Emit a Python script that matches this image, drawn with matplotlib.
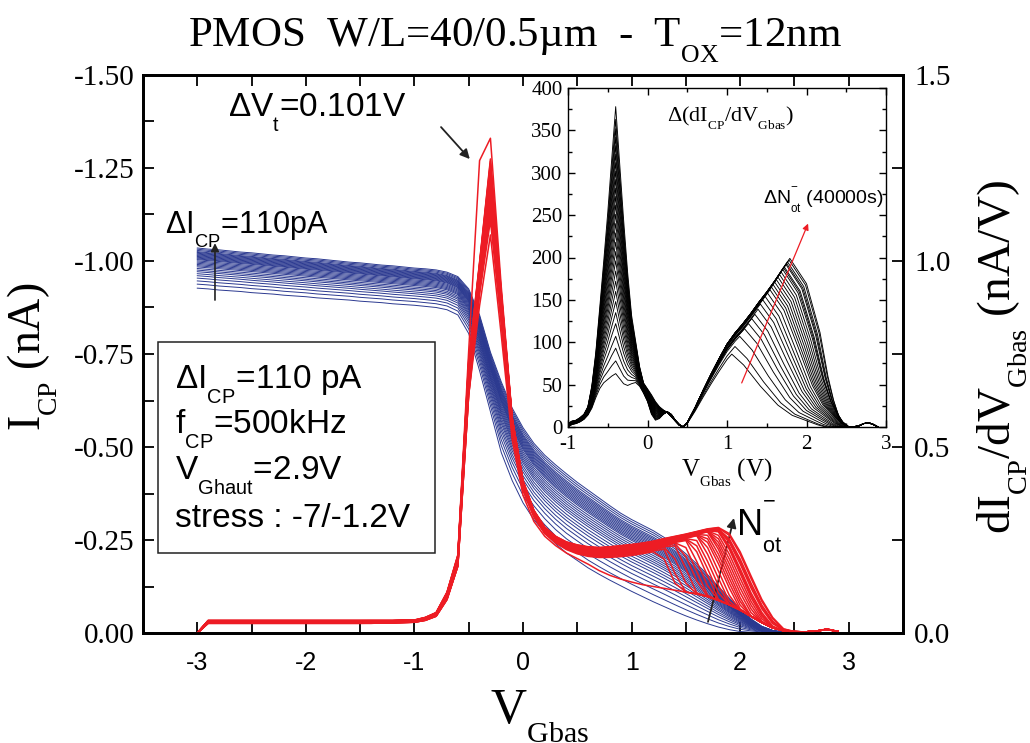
import numpy as np
import matplotlib
matplotlib.use("Agg")
import matplotlib.pyplot as plt
from matplotlib import font_manager
from matplotlib.ticker import MultipleLocator, FormatStrFormatter
from matplotlib.patches import Rectangle

# ---------------- data ----------------
# gate voltage grid of the main plot (V)
vg = [-3.0, -2.9, -2.8, -2.7, -2.6, -2.5, -2.4, -2.3, -2.2, -2.1,
      -2.0, -1.9, -1.8, -1.7, -1.6, -1.5, -1.4, -1.3, -1.2, -1.1,
      -1.0, -0.9, -0.8, -0.7, -0.6, -0.5, -0.4, -0.3, -0.2, -0.1,
      0.0, 0.1, 0.2, 0.3, 0.4, 0.5, 0.6, 0.7, 0.8, 0.9,
      1.0, 1.1, 1.2, 1.3, 1.4, 1.5, 1.6, 1.7, 1.8, 1.9,
      2.0, 2.1, 2.2, 2.3, 2.4, 2.5, 2.6, 2.7, 2.8, 2.9]

# I_CP (nA), fresh device and after the longest stress
icp_fresh = [-0.927, -0.925, -0.922, -0.920, -0.918, -0.915, -0.913, -0.911, -0.908, -0.906,
             -0.904, -0.901, -0.899, -0.897, -0.895, -0.892, -0.890, -0.888, -0.885, -0.883,
             -0.881, -0.878, -0.875, -0.869, -0.855, -0.805, -0.705, -0.595, -0.485, -0.410,
             -0.350, -0.305, -0.270, -0.240, -0.215, -0.195, -0.175, -0.158, -0.142, -0.127,
             -0.112, -0.098, -0.084, -0.071, -0.058, -0.046, -0.035, -0.025, -0.016, -0.009,
             -0.004, -0.002, -0.001, 0.0, 0.0, 0.0, 0.0, 0.0, 0.0, 0.0]
icp_stress = [-1.035, -1.032, -1.030, -1.027, -1.024, -1.022, -1.019, -1.016, -1.014, -1.011,
              -1.008, -1.006, -1.003, -1.000, -0.997, -0.995, -0.992, -0.989, -0.987, -0.984,
              -0.981, -0.979, -0.976, -0.970, -0.958, -0.925, -0.855, -0.755, -0.675, -0.605,
              -0.552, -0.510, -0.478, -0.452, -0.428, -0.405, -0.384, -0.363, -0.342, -0.322,
              -0.305, -0.290, -0.275, -0.257, -0.237, -0.213, -0.186, -0.157, -0.125, -0.094,
              -0.064, -0.038, -0.018, -0.007, -0.002, 0.0, 0.0, 0.0, 0.0, 0.0]

# dI_CP/dV_Gbas (nA/V): fresh curve, lower and upper edge of the stressed bundle
didv_fresh = [0.000, 0.026, 0.026, 0.026, 0.026, 0.026, 0.026, 0.026, 0.026, 0.026,
              0.026, 0.026, 0.026, 0.026, 0.026, 0.026, 0.026, 0.027, 0.027, 0.028,
              0.029, 0.034, 0.045, 0.090, 0.180, 0.640, 0.880, 1.070, 0.800, 0.520,
              0.370, 0.300, 0.260, 0.235, 0.215, 0.200, 0.185, 0.168, 0.155, 0.145,
              0.137, 0.130, 0.125, 0.120, 0.115, 0.110, 0.105, 0.098, 0.088, 0.076,
              0.062, 0.045, 0.028, 0.014, 0.006, 0.003, 0.003, 0.005, 0.010, 0.004]
didv_low = [0.000, 0.024, 0.024, 0.024, 0.024, 0.024, 0.024, 0.024, 0.024, 0.024,
            0.024, 0.024, 0.024, 0.024, 0.024, 0.024, 0.025, 0.025, 0.025, 0.026,
            0.027, 0.032, 0.043, 0.085, 0.170, 0.620, 0.900, 1.090, 0.820, 0.540,
            0.380, 0.310, 0.265, 0.240, 0.222, 0.210, 0.203, 0.200, 0.200, 0.202,
            0.205, 0.210, 0.215, 0.222, 0.230, 0.238, 0.245, 0.250, 0.255, 0.230,
            0.170, 0.100, 0.045, 0.015, 0.005, 0.003, 0.003, 0.005, 0.010, 0.004]
didv_high = [0.000, 0.034, 0.034, 0.034, 0.034, 0.034, 0.034, 0.034, 0.034, 0.034,
             0.034, 0.034, 0.034, 0.034, 0.034, 0.034, 0.034, 0.034, 0.034, 0.035,
             0.035, 0.042, 0.055, 0.110, 0.210, 0.740, 1.000, 1.280, 0.920, 0.580,
             0.410, 0.330, 0.285, 0.260, 0.245, 0.237, 0.232, 0.230, 0.232, 0.235,
             0.238, 0.242, 0.247, 0.254, 0.260, 0.266, 0.273, 0.280, 0.285, 0.272,
             0.225, 0.160, 0.095, 0.045, 0.012, 0.004, 0.003, 0.005, 0.012, 0.004]
# peak of the last (Delta Vt shifted) derivative curve
dvt_x = [-0.5, -0.4, -0.3, -0.2]
dvt_y = [0.76, 1.27, 1.33, 0.93]

# relative stress level of each of the 29 measurements (fresh ... 40000 s)
stress_w = [0.0, 0.10, 0.18, 0.25, 0.31, 0.36, 0.41, 0.45, 0.49, 0.53,
            0.56, 0.59, 0.62, 0.65, 0.68, 0.71, 0.73, 0.75, 0.77, 0.79,
            0.81, 0.83, 0.85, 0.87, 0.89, 0.91, 0.94, 0.97, 1.00]

# inset: Delta(dI_CP/dV_Gbas) -- position/height of the N_ot peak of each curve
peak_x = [1.06, 1.10, 1.16, 1.22, 1.27, 1.31, 1.35, 1.39, 1.42, 1.45,
          1.48, 1.51, 1.54, 1.56, 1.58, 1.60, 1.62, 1.64, 1.66, 1.68,
          1.70, 1.71, 1.72, 1.74, 1.75, 1.76, 1.78, 1.79]
peak_y = [86, 95, 107, 116, 122, 128, 133, 139, 145, 150,
          154, 158, 162, 165, 168, 171, 174, 177, 180, 183,
          186, 188, 189, 192, 193, 195, 197, 199]
# height of the interface-trap peak (V = -0.4 V) of each curve
ins_h1 = [63, 78, 93, 107, 122, 135, 148, 160, 172, 184,
          196, 207, 218, 229, 240, 251, 262, 272, 282, 292,
          302, 312, 322, 332, 342, 352, 363, 378]
# left part of the inset curves
ins_x1 = [-1.0, -0.95, -0.9, -0.85, -0.8, -0.75, -0.7, -0.65, -0.6, -0.55,
          -0.5, -0.45, -0.4, -0.35, -0.3, -0.25, -0.2, -0.15, -0.1, -0.05,
          0.0, 0.05, 0.1, 0.15, 0.2, 0.25, 0.3, 0.35, 0.4]
ins_base_lo = [0, 3, 4, 6, 9, 14, 22, 34, 44, 50, 53, 56, 58, 53, 48, 47, 50, 52, 48, 40,
               30, 15, 8, 10, 15, 18, 15, 8, 3]
ins_base_hi = [4, 7, 8, 11, 15, 24, 36, 44, 50, 54, 57, 60, 62, 58, 54, 56, 62, 70, 62, 52,
               45, 38, 30, 24, 20, 17, 12, 7, 2]
ins_shape = [0, 0, 0, 0, 0, 0, 0.04, 0.14, 0.29, 0.45, 0.62, 0.81, 1.0, 0.8, 0.6, 0.4,
             0.22, 0.1, 0.03, 0, 0, 0, 0, 0, 0, 0, 0, 0, 0]
# common rising edge of the N_ot peak (upper curve)
ins_rise_x = [0.45, 0.5, 0.6, 0.7, 0.8, 0.9, 1.0, 1.1, 1.2, 1.3, 1.4, 1.5, 1.6, 1.7, 1.8]
ins_rise_y = [0, 5, 23, 43, 62, 80, 97, 110, 121, 133, 146, 158, 171, 185, 199]
# falling edge (fraction of the peak vs distance from the peak) of first and last curve
ins_fall_frac = [1.0, 0.85, 0.56, 0.30, 0.16, 0.07, 0.03, 0.0]
ins_fall_dx_lo = [0.0, 0.15, 0.36, 0.58, 0.76, 0.98, 1.08, 1.18]
ins_fall_dx_hi = [0.0, 0.21, 0.38, 0.48, 0.55, 0.61, 0.65, 0.72]
ins_tail_x = [2.55, 2.65, 2.72, 2.78, 2.84, 2.9]
ins_tail_y = [0, 1, 4, 5, 3, 0]

# ---------------- styling ----------------
names = {f.name for f in font_manager.fontManager.ttflist}
SERIF = "Liberation Serif"
SANS = "Liberation Sans"
NARROW = "Liberation Sans Narrow" if "Liberation Sans Narrow" in names else SANS

plt.rcParams["font.family"] = SERIF
plt.rcParams["axes.unicode_minus"] = False
plt.rcParams["mathtext.default"] = "regular"

# smaller and lower sub/superscripts, as in the original (Origin) figure
try:
    import matplotlib._mathtext as _mt
    _mt.SHRINK_FACTOR = 0.6
    _mt.FontConstantsBase.sub1 = 0.85
    _mt.FontConstantsBase.sub2 = 0.85
    _mt.FontConstantsBase.sup1 = 1.35
except Exception:
    pass

BLUE = "#2B3990"
RED = "#ED1C24"

W, H = 1030, 743
fig = plt.figure(figsize=(W / 100, H / 100), dpi=100)
L, R, T, B = 143, 903, 75, 633
ax = fig.add_axes([L / W, 1 - B / H, (R - L) / W, (B - T) / H])
ax2 = ax.twinx()

x = np.array(vg)
bf, bs = np.array(icp_fresh), np.array(icp_stress)
rf, rl, rh = np.array(didv_fresh), np.array(didv_low), np.array(didv_high)

# blue: charge-pumping current curves
for w in stress_w:
    ax.plot(x, bf + w * (bs - bf), color=BLUE, lw=0.7)

# red: derivative curves
edge = np.where(x >= 1.8, rh, 10.0)
ax2.plot(x, rf, color=RED, lw=1.1)
n = len(peak_x)
for k in range(n):
    w = stress_w[k + 1]
    base = rl + w * (rh - rl)
    e = np.interp(x + (1.8 - peak_x[k]), x, edge)
    y = np.maximum(rf, np.minimum(base, e))
    if k == n - 1:
        for xv, yv in zip(dvt_x, dvt_y):
            y[np.argmin(np.abs(x - xv))] = yv
    ax2.plot(x, y, color=RED, lw=1.1)

ax.set_xlim(-3.5, 3.5)
ax.set_ylim(0, -1.5)
ax2.set_ylim(0, 1.5)
ax.xaxis.set_major_locator(MultipleLocator(1))
ax.xaxis.set_minor_locator(MultipleLocator(0.5))
ax.xaxis.set_major_formatter(FormatStrFormatter("%d"))
ax.yaxis.set_major_locator(MultipleLocator(0.25))
ax.yaxis.set_minor_locator(MultipleLocator(0.125))
ax.yaxis.set_major_formatter(FormatStrFormatter("%.2f"))
ax2.yaxis.set_major_locator(MultipleLocator(0.5))
ax2.yaxis.set_minor_locator(MultipleLocator(0.25))
ax2.yaxis.set_major_formatter(FormatStrFormatter("%.1f"))

ax.tick_params(axis="x", which="both", direction="in", top=True, bottom=True,
               length=8, width=1.3, labelsize=18, pad=13, labelfontfamily=NARROW)
ax.tick_params(axis="y", which="both", direction="in", left=True, right=False,
               length=8, width=1.3, labelsize=21, pad=6, labelfontfamily=SERIF)
ax2.tick_params(axis="y", which="both", direction="in", right=True, left=False,
                length=8, width=1.3, labelsize=21, pad=8, labelfontfamily=SERIF)
for a in (ax, ax2):
    for s in a.spines.values():
        s.set_linewidth(2.0)

# titles / axis labels
fig.text(0.5, 1 - 47 / H, "PMOS  W/L=40/0.5µm  -  T$_{OX}$=12nm",
         ha="center", va="baseline", fontsize=31, family=SERIF)
fig.text(33 / W, 1 - 357 / H, "I$_{CP}$ (nA)", rotation=90, ha="center",
         va="center", fontsize=33, family=SERIF)
fig.text(1003 / W, 1 - 357 / H, "dI$_{CP}$/dV$_{Gbas}$ (nA/V)", rotation=90,
         ha="center", va="center", fontsize=34, family=SERIF)
fig.text(490 / W, 1 - 722 / H, "V$_{Gbas}$", ha="left", va="baseline",
         fontsize=36, family=SERIF)

# annotations in the main plot
ax.text(-2.717, -1.387, "ΔV$_{t}$=0.101V", ha="left", va="baseline",
        fontsize=24, family=SANS)
ax.annotate("", xy=(-0.49, -1.274), xytext=(-0.755, -1.36),
            arrowprops=dict(arrowstyle="-|>", color="#222222", lw=1.3,
                            mutation_scale=14, shrinkA=0, shrinkB=0))
ax.text(-3.297, -1.075, "ΔI$_{CP}$=110pA", ha="left", va="baseline",
        fontsize=22, family=SANS)
ax.annotate("", xy=(-2.837, -1.048), xytext=(-2.837, -0.895),
            arrowprops=dict(arrowstyle="-|>", color="#222222", lw=1.2,
                            mutation_scale=12, shrinkA=0, shrinkB=0))
ax.add_patch(Rectangle((-3.362, -0.782), 2.551, 0.567, fill=False,
                       edgecolor="#222222", lw=1.1, zorder=3))
box_lines = ["ΔI$_{CP}$=110 pA", "f$_{CP}$=500kHz", "V$_{Ghaut}$=2.9V",
             "stress : -7/-1.2V"]
for txt, yb in zip(box_lines, [-0.658, -0.537, -0.412, -0.286]):
    ax.text(-3.205, yb, txt, ha="left", va="baseline", fontsize=24, family=SANS)
ax.text(1.962, -0.262, "N$_{ot}^{-}$", ha="left", va="baseline",
        fontsize=26, family=SANS)
ax.annotate("", xy=(1.943, -0.309), xytext=(1.704, -0.03),
            arrowprops=dict(arrowstyle="-|>", color="#222222", lw=1.3,
                            mutation_scale=14, shrinkA=0, shrinkB=0))

# ---------------- inset ----------------
IL, IR, IT, IB = 568, 886, 88, 427
axin = fig.add_axes([IL / W, 1 - IB / H, (IR - IL) / W, (IB - IT) / H])
axin.set_facecolor("white")
ix1 = np.array(ins_x1)
blo, bhi, shp = np.array(ins_base_lo), np.array(ins_base_hi), np.array(ins_shape)
rx, ry = np.array(ins_rise_x), np.array(ins_rise_y)
ff = np.array(ins_fall_frac)
dlo, dhi = np.array(ins_fall_dx_lo), np.array(ins_fall_dx_hi)
tx, ty = np.array(ins_tail_x), np.array(ins_tail_y)
i_peak = ins_x1.index(-0.4)
for k in range(n):
    f = k / (n - 1)
    base = blo + f * (bhi - blo)
    y1 = base + (ins_h1[k] - base[i_peak]) * shp
    s = peak_y[k] / np.interp(peak_x[k], rx, ry)
    m = rx < peak_x[k] - 0.01
    dx = dlo + f * (dhi - dlo)
    fx = peak_x[k] + dx[1:]
    fy = peak_y[k] * ff[1:]
    mt = tx > fx[-1]
    xs = np.concatenate([ix1, rx[m], [peak_x[k]], fx, tx[mt]])
    ys = np.concatenate([y1, ry[m] * s, [peak_y[k]], fy, ty[mt]])
    axin.plot(xs, ys, color="black", lw=0.65)

axin.set_xlim(-1, 3)
axin.set_ylim(0, 400)
axin.xaxis.set_major_locator(MultipleLocator(1))
axin.xaxis.set_minor_locator(MultipleLocator(0.5))
axin.yaxis.set_major_locator(MultipleLocator(50))
axin.yaxis.set_minor_locator(MultipleLocator(25))
axin.tick_params(which="both", direction="in", top=True, right=True,
                 labelsize=15, labelfontfamily=SERIF, width=1.0)
axin.tick_params(axis="x", pad=6)
axin.tick_params(axis="y", pad=4)
axin.tick_params(which="major", length=5)
axin.tick_params(which="minor", length=3)
for s in axin.spines.values():
    s.set_linewidth(1.0)
axin.set_xlabel("V$_{Gbas}$ (V)", fontsize=18, family=SERIF, labelpad=2)
axin.text(0.245, 360, "Δ(dI$_{CP}$/dV$_{Gbas}$)", ha="left", va="baseline",
          fontsize=16, family=SERIF)
axin.text(1.45, 262, "ΔN$_{ot}^{-}$ (40000s)", ha="left", va="baseline",
          fontsize=14, family=SANS)
axin.annotate("", xy=(2.02, 240), xytext=(1.185, 52),
              arrowprops=dict(arrowstyle="-|>", color=RED, lw=0.9,
                              mutation_scale=9, shrinkA=0, shrinkB=0))

fig.savefig("out.png", dpi=100)
